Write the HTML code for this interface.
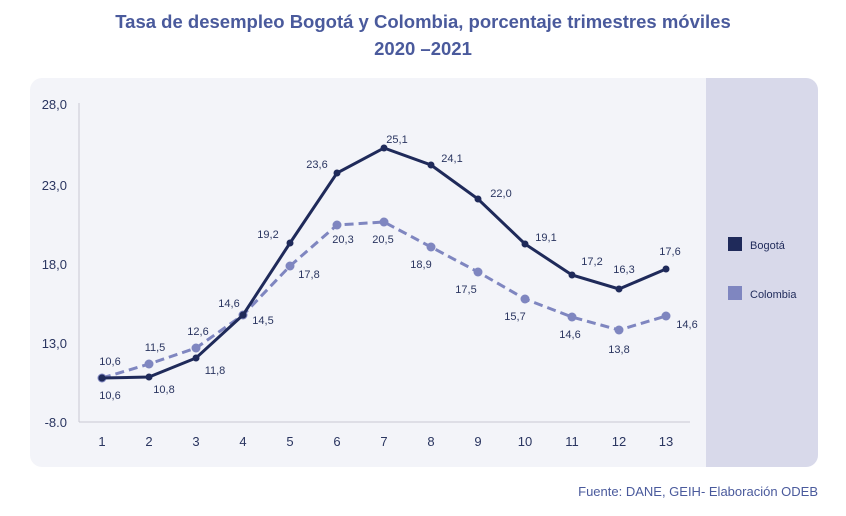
<!DOCTYPE html>
<html><head><meta charset="utf-8"><style>
body{margin:0;background:#fff;width:846px;height:511px;overflow:hidden;font-family:"Liberation Sans",sans-serif}
</style></head><body>
<svg width="846" height="511" xmlns="http://www.w3.org/2000/svg" font-family="Liberation Sans, sans-serif">
<text x="423" y="28" text-anchor="middle" font-size="18.5" font-weight="bold" fill="#4a5a9c">Tasa de desempleo Bogotá y Colombia, porcentaje trimestres móviles</text>
<text x="423" y="55" text-anchor="middle" font-size="18.5" font-weight="bold" fill="#4a5a9c">2020 –2021</text>
<rect x="30" y="78" width="788" height="389" rx="12" fill="#f3f4f9"/>
<path d="M706 78 H806 A12 12 0 0 1 818 90 V455 A12 12 0 0 1 806 467 H706 Z" fill="#d8d9ea"/>
<line x1="79" y1="103" x2="79" y2="422" stroke="#c8c9d2"/>
<line x1="79" y1="422" x2="690" y2="422" stroke="#c8c9d2"/>
<g font-size="13" fill="#2a3560" text-anchor="end">
<text x="67" y="109">28,0</text><text x="67" y="190">23,0</text><text x="67" y="269">18,0</text><text x="67" y="348">13,0</text><text x="67" y="427">-8.0</text>
</g>
<g font-size="13" fill="#2a3560" text-anchor="middle">
<text x="102" y="446">1</text><text x="149" y="446">2</text><text x="196" y="446">3</text><text x="243" y="446">4</text><text x="290" y="446">5</text><text x="337" y="446">6</text><text x="384" y="446">7</text><text x="431" y="446">8</text><text x="478" y="446">9</text><text x="525" y="446">10</text><text x="572" y="446">11</text><text x="619" y="446">12</text><text x="666" y="446">13</text>
</g>
<polyline fill="none" stroke="#7f86c0" stroke-width="3" stroke-dasharray="9,5" points="102,378 149,364 196,348 243,315 290,266 337,225 384,222 431,247 478,272 525,299 572,317 619,330 666,316"/>
<g fill="#7f86c0">
<circle cx="102" cy="378" r="4.5"/><circle cx="149" cy="364" r="4.5"/><circle cx="196" cy="348" r="4.5"/><circle cx="243" cy="315" r="4.5"/><circle cx="290" cy="266" r="4.5"/><circle cx="337" cy="225" r="4.5"/><circle cx="384" cy="222" r="4.5"/><circle cx="431" cy="247" r="4.5"/><circle cx="478" cy="272" r="4.5"/><circle cx="525" cy="299" r="4.5"/><circle cx="572" cy="317" r="4.5"/><circle cx="619" cy="330" r="4.5"/><circle cx="666" cy="316" r="4.5"/>
</g>
<polyline fill="none" stroke="#1f2a5a" stroke-width="3" points="102,378 149,377 196,358 243,315 290,243 337,173 384,148 431,165 478,199 525,244 572,275 619,289 666,269"/>
<g fill="#1f2a5a">
<circle cx="102" cy="378" r="3.5"/><circle cx="149" cy="377" r="3.5"/><circle cx="196" cy="358" r="3.5"/><circle cx="243" cy="315" r="3.5"/><circle cx="290" cy="243" r="3.5"/><circle cx="337" cy="173" r="3.5"/><circle cx="384" cy="148" r="3.5"/><circle cx="431" cy="165" r="3.5"/><circle cx="478" cy="199" r="3.5"/><circle cx="525" cy="244" r="3.5"/><circle cx="572" cy="275" r="3.5"/><circle cx="619" cy="289" r="3.5"/><circle cx="666" cy="269" r="3.5"/>
</g>
<g font-size="11" fill="#2a3560" text-anchor="middle">
<text x="110" y="365">10,6</text><text x="110" y="399">10,6</text>
<text x="155" y="351">11,5</text><text x="164" y="393">10,8</text>
<text x="198" y="335">12,6</text><text x="215" y="374">11,8</text>
<text x="229" y="307">14,6</text><text x="263" y="324">14,5</text>
<text x="268" y="238">19,2</text><text x="309" y="278">17,8</text>
<text x="317" y="168">23,6</text><text x="343" y="243">20,3</text>
<text x="397" y="143">25,1</text><text x="383" y="243">20,5</text>
<text x="452" y="162">24,1</text><text x="421" y="268">18,9</text>
<text x="501" y="197">22,0</text><text x="466" y="293">17,5</text>
<text x="546" y="241">19,1</text><text x="515" y="320">15,7</text>
<text x="592" y="265">17,2</text><text x="570" y="338">14,6</text>
<text x="624" y="273">16,3</text><text x="619" y="353">13,8</text>
<text x="670" y="255">17,6</text><text x="687" y="328">14,6</text>
</g>
<rect x="728" y="237" width="14" height="14" fill="#1f2a5a"/>
<text x="750" y="249" font-size="11" fill="#1f2a5a">Bogotá</text>
<rect x="728" y="286" width="14" height="14" fill="#7f86c0"/>
<text x="750" y="298" font-size="11" fill="#1f2a5a">Colombia</text>
<text x="818" y="496" text-anchor="end" font-size="13" fill="#4a5a9c">Fuente: DANE, GEIH- Elaboración ODEB</text>
</svg>
</body></html>
